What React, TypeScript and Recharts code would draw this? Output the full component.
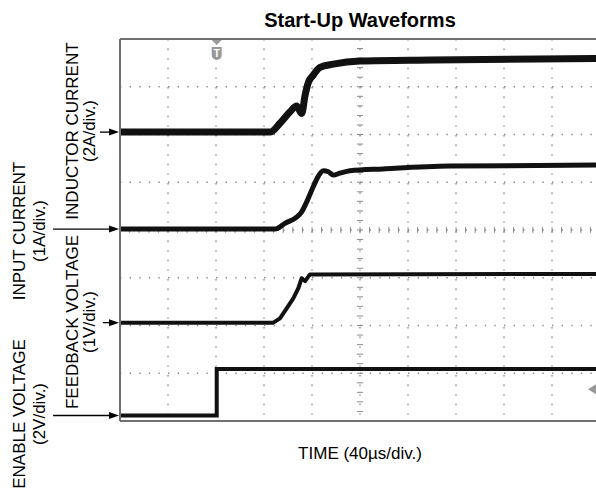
import React from 'react';
import {
  CartesianGrid,
  Line,
  LineChart,
  ReferenceDot,
  ReferenceLine,
  XAxis,
  YAxis,
} from 'recharts';

// Scope screen: 10 div x 8 div, 40 µs/div -> time axis in µs
const MAJOR_T = [0, 40, 80, 120, 160, 200, 240, 280, 320, 360, 400];
const MINOR_T = Array.from({ length: 51 }, (_, i) => i * 8);
const DIV_MAJOR = [0, 1, 2, 3, 4, 5, 6, 7, 8];
const DIV_MINOR = Array.from({ length: 41 }, (_, i) => +(i * 0.2).toFixed(1));

// Inductor current (A), 2 A/div
const INDUCTOR_T = [0, 125, 133.3, 141.7, 147.2, 151.4, 154.2, 156.9, 161.1, 166.7, 177.8, 200, 260, 400];
const INDUCTOR_A = [0, 0, 0.37, 0.85, 1.09, 0.78, 1.53, 2.07, 2.39, 2.71, 2.85, 2.98, 3.02, 3.09];

// Input current (A), 1 A/div
const INPUT_T = [0, 129.2, 137.5, 147.2, 151.4, 155.6, 161.1, 165.3, 169.4, 173.6, 177.8, 183.3, 191.7, 219.4, 275, 400];
const INPUT_A = [0, 0, 0.12, 0.25, 0.36, 0.57, 0.89, 1.11, 1.22, 1.2, 1.13, 1.17, 1.22, 1.26, 1.32, 1.34];

// Feedback voltage (V), 1 V/div
const FEEDBACK_T = [0, 127.8, 133.3, 138.9, 144.4, 148.6, 151.4, 154.2, 158.3, 400];
const FEEDBACK_V = [0, 0, 0.09, 0.3, 0.51, 0.72, 0.93, 0.87, 1.01, 1.02];

// Enable voltage (V), 2 V/div
const ENABLE_T = [0, 80.6, 400];
const ENABLE_V = [0, 1.95, 1.95];

const TRIGGER_T = 80.6;
const TRIGGER_LEVEL_V = 1.1;

// channel zero position (div from bottom) and units per div
const CHANNELS = {
  ind: { zero: 6.05, perDiv: 2 },
  inp: { zero: 4.02, perDiv: 1 },
  fb: { zero: 2.06, perDiv: 1 },
  en: { zero: 0.115, perDiv: 2 },
};

const zip = (t: number[], v: number[]) => t.map((x, i) => ({ t: x, v: v[i] }));
const domainOf = (c: { zero: number; perDiv: number }): [number, number] => [
  -c.zero * c.perDiv,
  (8 - c.zero) * c.perDiv,
];

const GRID = '#8a8a8a';
const FRAME = '#707070';
const TRACE = '#111';
const FONT = '"Liberation Sans", Arial, Helvetica, sans-serif';

const LABELS = [
  { lines: ['INDUCTOR CURRENT', '(2A/div.)'], x: [78, 95], cy: 131 },
  { lines: ['INPUT CURRENT', '(1A/div.)'], x: [25, 45], cy: 231 },
  { lines: ['FEEDBACK VOLTAGE', '(1V/div.)'], x: [78, 95], cy: 322 },
  { lines: ['ENABLE VOLTAGE', '(2V/div.)'], x: [25, 45], cy: 414 },
];

// arrow start (µs, left of the screen) for each channel's ground marker
const ARROWS = [
  { id: 'ind', from: -16.7 },
  { id: 'inp', from: -55.8 },
  { id: 'fb', from: -14.2 },
  { id: 'en', from: -55.8 },
];

const Arrow = (p: any) => {
  const { x1, y1, x2, y2 } = p;
  return (
    <g>
      <line x1={x1} y1={y1} x2={x2 - 6} y2={y2} stroke="#000" strokeWidth={1.3} />
      <polygon points={`${x2},${y2} ${x2 - 10},${y2 - 3.5} ${x2 - 10},${y2 + 3.5}`} fill="#000" />
    </g>
  );
};

const TriggerMark = (p: any) => {
  const { cx, cy } = p;
  return (
    <g>
      <polygon points={`${cx - 5},${cy + 1} ${cx + 5},${cy + 1} ${cx},${cy + 6}`} fill="#999" />
      <path d={`M${cx - 5},${cy + 8} h10 v8 a5,5 0 0 1 -5,5 a5,5 0 0 1 -5,-5 z`} fill="#999" />
      <text x={cx} y={cy + 18} textAnchor="middle" fontSize={10} fontWeight="bold" fill="#fff" fontFamily={FONT}>
        T
      </text>
    </g>
  );
};

const LevelMark = (p: any) => {
  const { cx, cy } = p;
  return <polygon points={`${cx - 4},${cy} ${cx + 4},${cy - 5} ${cx + 4},${cy + 5}`} fill="#999" />;
};

export default function App() {
  return (
    <div style={{ position: 'absolute', left: 0, top: 0, width: 596, height: 495, overflow: 'hidden', background: '#fff' }}>
      <LineChart width={604} height={495} margin={{ top: 39, right: 4, bottom: 74, left: 120 }}>
        <XAxis xAxisId="t" type="number" dataKey="t" domain={[0, 400]} ticks={MAJOR_T} hide height={0} allowDataOverflow />
        <XAxis
          xAxisId="frameBottom"
          type="number"
          domain={[0, 400]}
          allowDataOverflow
          ticks={MINOR_T}
          interval={0}
          orientation="bottom"
          mirror
          height={1}
          tick={false}
          tickSize={3}
          tickLine={{ stroke: FRAME }}
          axisLine={{ stroke: FRAME, strokeWidth: 2 }}
        />
        <XAxis
          xAxisId="frameTop"
          type="number"
          domain={[0, 400]}
          allowDataOverflow
          ticks={MINOR_T}
          interval={0}
          orientation="top"
          mirror
          height={1}
          tick={false}
          tickSize={3}
          tickLine={{ stroke: FRAME }}
          axisLine={{ stroke: FRAME, strokeWidth: 2 }}
        />
        <YAxis yAxisId="div" type="number" domain={[0, 8]} ticks={DIV_MAJOR} hide width={0} allowDataOverflow />
        <YAxis
          yAxisId="frameLeft"
          type="number"
          domain={[0, 8]}
          allowDataOverflow
          ticks={DIV_MINOR}
          interval={0}
          orientation="left"
          mirror
          width={1}
          tick={false}
          tickSize={3}
          tickLine={{ stroke: FRAME }}
          axisLine={{ stroke: FRAME, strokeWidth: 2 }}
        />
        <YAxis yAxisId="ind" type="number" domain={domainOf(CHANNELS.ind)} hide width={0} allowDataOverflow />
        <YAxis yAxisId="inp" type="number" domain={domainOf(CHANNELS.inp)} hide width={0} allowDataOverflow />
        <YAxis yAxisId="fb" type="number" domain={domainOf(CHANNELS.fb)} hide width={0} allowDataOverflow />
        <YAxis yAxisId="en" type="number" domain={domainOf(CHANNELS.en)} hide width={0} allowDataOverflow />

        <CartesianGrid xAxisId="t" yAxisId="div" stroke={GRID} strokeWidth={1.4} strokeDasharray="1.4 8.2" />

        {DIV_MINOR.filter((d) => d > 0 && d < 8).map((d) => (
          <ReferenceLine
            key={`cv${d}`}
            xAxisId="t"
            yAxisId="div"
            segment={[{ x: 197.5, y: d }, { x: 202.5, y: d }]}
            stroke={GRID}
          />
        ))}
        {MINOR_T.filter((t) => t > 0 && t < 400).map((t) => (
          <ReferenceLine
            key={`ch${t}`}
            xAxisId="t"
            yAxisId="div"
            segment={[{ x: t, y: 3.94 }, { x: t, y: 4.06 }]}
            stroke={GRID}
          />
        ))}

        <Line xAxisId="t" yAxisId="en" data={zip(ENABLE_T, ENABLE_V)} dataKey="v" type="stepAfter" stroke={TRACE} strokeWidth={4} dot={false} isAnimationActive={false} />
        <Line xAxisId="t" yAxisId="fb" data={zip(FEEDBACK_T, FEEDBACK_V)} dataKey="v" type="linear" stroke={TRACE} strokeWidth={4} dot={false} isAnimationActive={false} strokeLinejoin="round" />
        <Line xAxisId="t" yAxisId="inp" data={zip(INPUT_T, INPUT_A)} dataKey="v" type="monotone" stroke={TRACE} strokeWidth={5} dot={false} isAnimationActive={false} strokeLinejoin="round" />
        <Line xAxisId="t" yAxisId="ind" data={zip(INDUCTOR_T, INDUCTOR_A)} dataKey="v" type="monotone" stroke={TRACE} strokeWidth={7} dot={false} isAnimationActive={false} strokeLinejoin="round" />

        {ARROWS.map((a) => (
          <ReferenceLine
            key={a.id}
            xAxisId="t"
            yAxisId={a.id}
            segment={[{ x: a.from, y: 0 }, { x: -0.8, y: 0 }]}
            ifOverflow="visible"
            shape={Arrow}
          />
        ))}

        <ReferenceDot xAxisId="t" yAxisId="div" x={TRIGGER_T} y={8} ifOverflow="visible" shape={TriggerMark} />
        <ReferenceDot xAxisId="t" yAxisId="en" x={393.3} y={TRIGGER_LEVEL_V} ifOverflow="visible" shape={LevelMark} />
      </LineChart>

      <svg width={596} height={495} style={{ position: 'absolute', left: 0, top: 0, pointerEvents: 'none' }} fontFamily={FONT}>
        <text x={360} y={27} textAnchor="middle" fontSize={20} fontWeight="bold" fill="#000">
          Start-Up Waveforms
        </text>
        <text x={360} y={459} textAnchor="middle" fontSize={17} fill="#000">
          TIME (40µs/div.)
        </text>
        {LABELS.map((l) =>
          l.lines.map((s, i) => (
            <text
              key={s}
              transform={`translate(${l.x[i]},${l.cy}) rotate(-90)`}
              textAnchor="middle"
              fontSize={17}
              fill="#000"
            >
              {s}
            </text>
          )),
        )}
      </svg>
    </div>
  );
}
